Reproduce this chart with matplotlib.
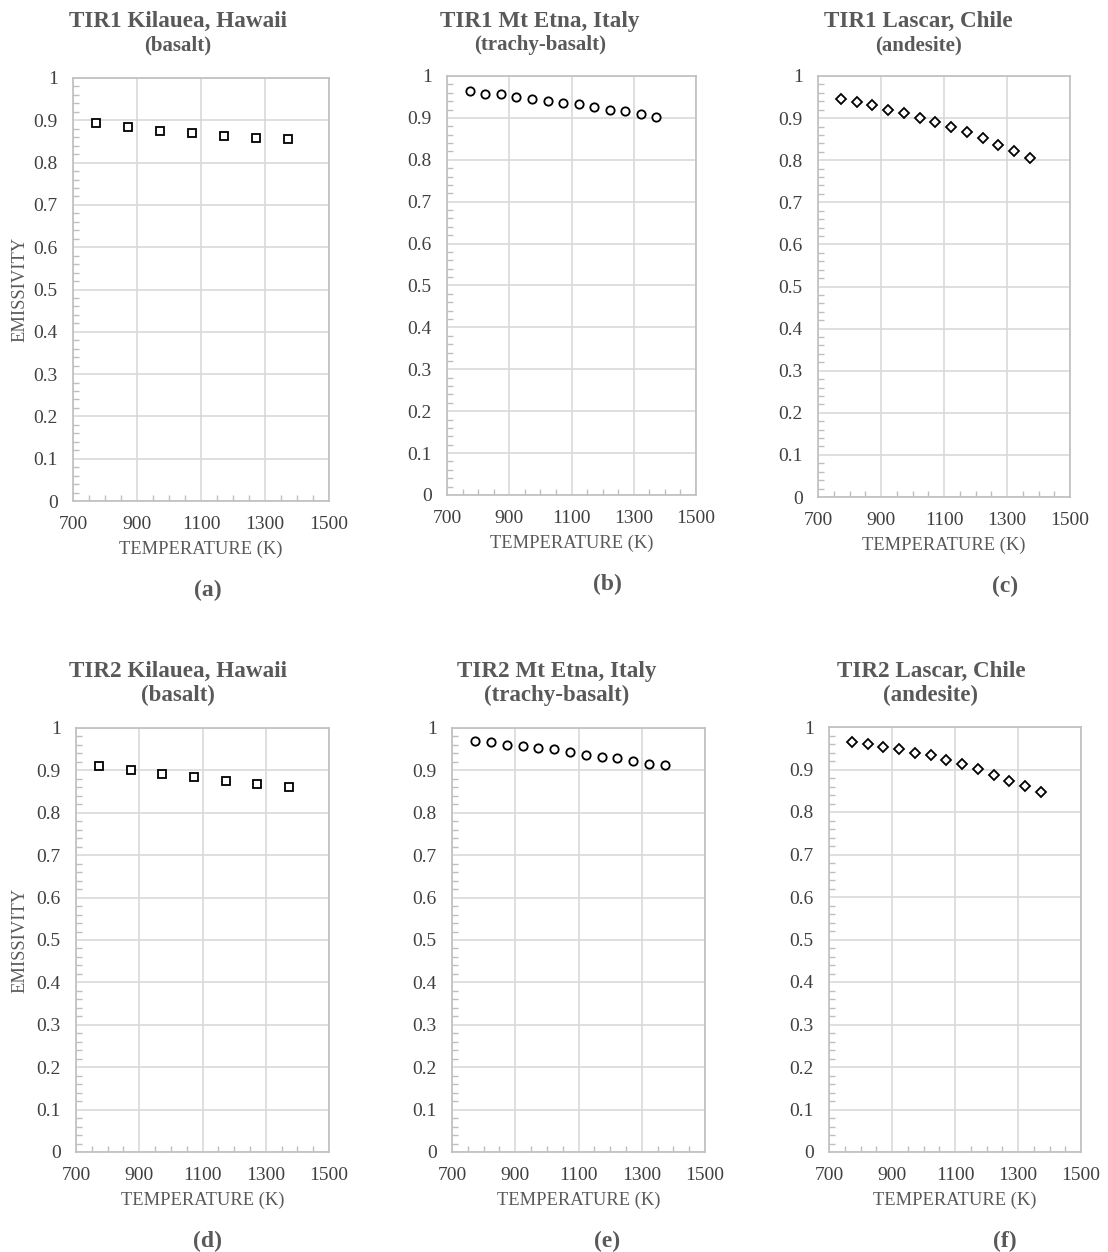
import numpy as np
import matplotlib
matplotlib.use("Agg")
import matplotlib.pyplot as plt
from matplotlib.ticker import MultipleLocator

# temperatures (K)
temp_kilauea = [773, 873, 973, 1073, 1173, 1273, 1373]
temp_13 = [773, 823, 873, 923, 973, 1023, 1073, 1123, 1173, 1223, 1273, 1323, 1373]

# emissivity
tir1_kilauea = [0.893, 0.885, 0.875, 0.870, 0.863, 0.859, 0.855]
tir1_etna = [0.964, 0.958, 0.956, 0.951, 0.945, 0.940, 0.936, 0.932, 0.925, 0.920, 0.916, 0.909, 0.903]
tir1_lascar = [0.945, 0.938, 0.930, 0.920, 0.913, 0.901, 0.890, 0.878, 0.866, 0.852, 0.836, 0.822, 0.806]
tir2_kilauea = [0.910, 0.901, 0.891, 0.885, 0.876, 0.868, 0.862]
tir2_etna = [0.970, 0.967, 0.960, 0.957, 0.953, 0.950, 0.944, 0.937, 0.932, 0.929, 0.923, 0.915, 0.912]
tir2_lascar = [0.964, 0.960, 0.954, 0.948, 0.940, 0.933, 0.922, 0.912, 0.901, 0.888, 0.874, 0.861, 0.847]

titles = ["TIR1 Kilauea, Hawaii", "TIR1 Mt Etna, Italy", "TIR1 Lascar, Chile",
          "TIR2 Kilauea, Hawaii", "TIR2 Mt Etna, Italy", "TIR2 Lascar, Chile"]
rocks = ["(basalt)", "(trachy-basalt)", "(andesite)",
         "(basalt)", "(trachy-basalt)", "(andesite)"]
letters = ["(a)", "(b)", "(c)", "(d)", "(e)", "(f)"]
x_ticks = [700, 900, 1100, 1300, 1500]

W, H = 1108, 1252
plt.rcParams['font.family'] = ['Liberation Serif', 'DejaVu Serif']
fig = plt.figure(figsize=(W / 100, H / 100), dpi=100)

txt = "#595959"
grid = "#d9d9d9"

# pixel boxes: left, top, right, bottom
boxes = [(73, 78, 329, 501), (447, 76, 696, 495), (818, 76, 1070, 497),
         (76, 728, 329, 1152), (452, 728, 705, 1152), (829, 727, 1081, 1152)]
title_x = [178, 540, 918, 178, 557, 931]
label_x = [208, 607, 1005, 208, 607, 1005]

panels = [(temp_kilauea, tir1_kilauea, 's'), (temp_13, tir1_etna, 'o'), (temp_13, tir1_lascar, 'D'),
          (temp_kilauea, tir2_kilauea, 's'), (temp_13, tir2_etna, 'o'), (temp_13, tir2_lascar, 'D')]
msize = {'s': 6.2, 'o': 6.0, 'D': 5.2}


def fx(px):
    return px / W


def fy(py):
    return 1 - py / H


for i, (x, y, m) in enumerate(panels):
    l, t, r, b = boxes[i]
    ax = fig.add_axes([fx(l), fy(b), fx(r) - fx(l), fy(t) - fy(b)])
    ax.plot(x, y, linestyle='none', marker=m, markersize=msize[m],
            markerfacecolor='white', markeredgecolor='black', markeredgewidth=1.3, zorder=3)
    ax.set_xlim(700, 1500)
    ax.set_ylim(0, 1)
    ax.set_xticks(x_ticks)
    ax.set_xticklabels([str(v) for v in x_ticks])
    ax.xaxis.set_minor_locator(MultipleLocator(50))
    ax.yaxis.set_minor_locator(MultipleLocator(0.02))
    ax.set_yticks(np.arange(0, 1.01, 0.1))
    ax.set_yticklabels(["0"] + ["%.1f" % v for v in np.arange(0.1, 0.95, 0.1)] + ["1"])
    ax.grid(True, which='major', color=grid, linewidth=1.2)
    ax.tick_params(which='major', length=0, labelsize=14, labelcolor="#404040")
    ax.tick_params(axis='x', which='major', pad=11)
    ax.tick_params(axis='y', which='major', pad=11)
    ax.tick_params(which='minor', direction='in', length=4, color="#bfbfbf", width=1)
    ax.tick_params(axis='x', which='minor', top=False)
    ax.tick_params(axis='y', which='minor', right=False)
    for s in ax.spines.values():
        s.set_color("#bfbfbf")
        s.set_linewidth(1.2)
    ax.set_axisbelow(True)

    row_top = 0 if i < 3 else 650
    fig.text(fx(title_x[i]), fy(row_top + 21), titles[i], ha='center', va='center',
             fontsize=16.7, fontweight='bold', color=txt)
    fig.text(fx(title_x[i]), fy(row_top + 45), rocks[i], ha='center', va='center',
             fontsize=15 if i < 3 else 16.5, fontweight='bold', color=txt)
    fig.text(fx((l + r) / 2), fy(b + 48), "TEMPERATURE (K)", ha='center', va='center',
             fontsize=13.3, color=txt)
    fig.text(fx(label_x[i]), fy(b + 89), letters[i], ha='center', va='center',
             fontsize=17, fontweight='bold', color=txt)
    if i % 3 == 0:
        fig.text(fx(20), fy((t + b) / 2), "EMISSIVITY", ha='center', va='center',
                 rotation=90, fontsize=13.3, color=txt)

fig.savefig("out.png", dpi=100)
